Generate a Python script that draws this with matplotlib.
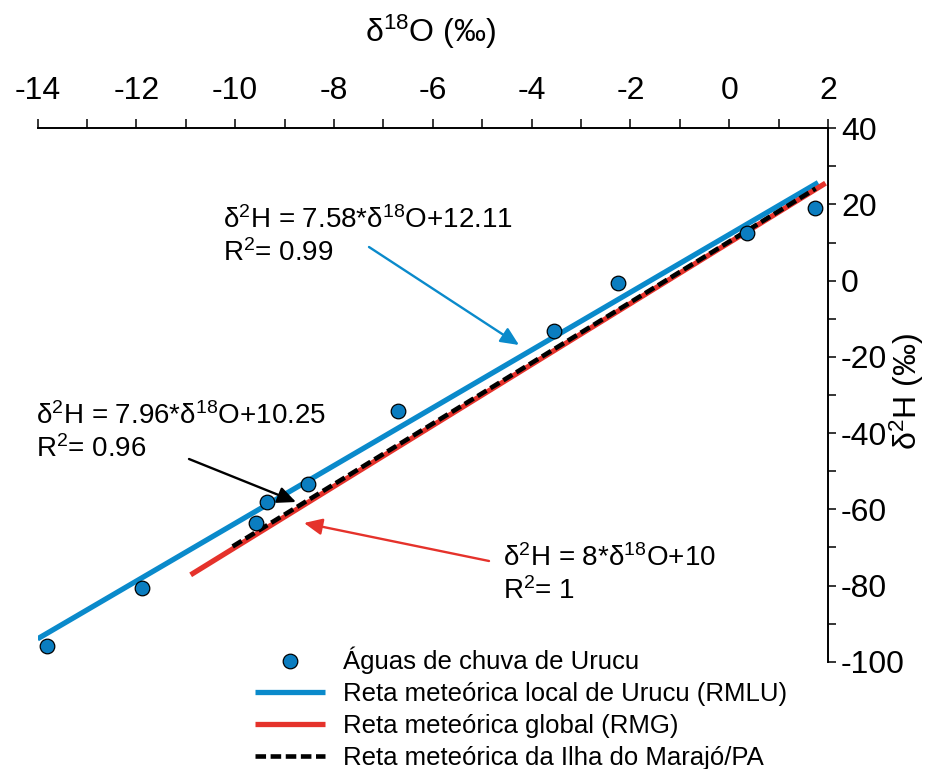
import matplotlib
matplotlib.use('Agg')
import matplotlib.pyplot as plt
import numpy as np
from matplotlib.lines import Line2D

plt.rcParams['font.family'] = ['Liberation Sans', 'DejaVu Sans']
plt.rcParams['mathtext.fontset'] = 'custom'
plt.rcParams['mathtext.rm'] = 'Liberation Sans'
plt.rcParams['mathtext.it'] = 'Liberation Sans:italic'
plt.rcParams['mathtext.default'] = 'regular'

# ---------------- data ----------------
d18O = [-13.8, -11.89, -9.57, -9.35, -8.52, -6.71, -3.55, -2.25, 0.37, 1.74]
d2H = [-96.0, -80.6, -63.5, -58.2, -53.3, -34.3, -13.1, -0.7, 12.6, 19.2]

rmlu_coef = (7.58, 12.11)      # local meteoric water line (Urucu)
rmg_coef = (8.0, 10.0)         # global meteoric water line
marajo_coef = (7.96, 10.25)    # Ilha do Marajo meteoric line
rmlu_range = [-14.0, 1.8]
rmg_range = [-10.9, 1.95]
marajo_range = [-10.05, 1.75]

xmajor = [-14, -12, -10, -8, -6, -4, -2, 0, 2]
xminor = [-13, -11, -9, -7, -5, -3, -1, 1]
ymajor = [40, 20, 0, -20, -40, -60, -80, -100]
yminor = [30, 10, -10, -30, -50, -70, -90]

eq_rmlu = [r'δ$^{2}$H = 7.58*δ$^{18}$O+12.11', r'R$^{2}$= 0.99']
eq_marajo = [r'δ$^{2}$H = 7.96*δ$^{18}$O+10.25', r'R$^{2}$= 0.96']
eq_rmg = [r'δ$^{2}$H = 8*δ$^{18}$O+10', r'R$^{2}$= 1']

legend_labels = ['Águas de chuva de Urucu',
                 'Reta meteórica local de Urucu (RMLU)',
                 'Reta meteórica global (RMG)',
                 'Reta meteórica da Ilha do Marajó/PA']

BLUE = '#0A8ACB'
MBLUE = '#0B7DC0'
RED = '#E5322B'

W, H = 932, 769
fig = plt.figure(figsize=(W / 100, H / 100), dpi=100)


def fp(x, y):
    return (x / W, 1 - y / H)


ax = fig.add_axes([37.5 / W, 1 - 661.7 / H, (828 - 37.5) / W, (661.7 - 128.3) / H])


def line_pts(coef, rng):
    xs = np.array(rng)
    return xs, coef[0] * xs + coef[1]


x, y = line_pts(rmlu_coef, rmlu_range)
ax.plot(x, y, color=BLUE, lw=3.8, solid_capstyle='butt', zorder=2)
x, y = line_pts(rmg_coef, rmg_range)
ax.plot(x, y, color=RED, lw=3.8, solid_capstyle='butt', zorder=2)
x, y = line_pts(marajo_coef, marajo_range)
ax.plot(x, y, color='black', lw=3.3, dashes=(2.3, 1.0), zorder=3)
ax.plot(d18O, d2H, ls='none', marker='o', ms=10.5, mfc=MBLUE, mec='black', mew=0.9,
        zorder=4, clip_on=False)

ax.set_xlim(-14, 2)
ax.set_ylim(-100, 40)
ax.spines['left'].set_visible(False)
ax.spines['bottom'].set_visible(False)
ax.spines['top'].set_linewidth(1.4)
ax.spines['right'].set_linewidth(1.4)
ax.xaxis.set_ticks_position('top')
ax.yaxis.set_ticks_position('right')
ax.set_xticks(xmajor)
ax.set_xticks(xminor, minor=True)
ax.set_yticks(ymajor)
ax.set_yticks(yminor, minor=True)
ax.set_xticklabels([str(v) for v in xmajor])
ax.set_yticklabels([str(v) for v in ymajor])
ax.tick_params(axis='x', which='both', direction='out', length=6.5, width=1.1,
               labelsize=23, pad=9.4)
ax.tick_params(axis='y', which='both', direction='out', length=5.8, width=1.1,
               labelsize=23, pad=3.5)

fig.text(*fp(431, 42), r'δ$^{18}$O (‰)', fontsize=23, ha='center', va='baseline')
fig.text(*fp(907, 392), r'δ$^{2}$H (‰)', fontsize=23, ha='center', va='center',
         rotation=90)

# equations
for lines, (lx, by) in [(eq_rmlu, (223, 228)), (eq_marajo, (36.5, 424)),
                        (eq_rmg, (503, 566))]:
    fig.text(*fp(lx, by), lines[0], fontsize=20, ha='left', va='baseline')
    fig.text(*fp(lx, by + 33), lines[1], fontsize=20, ha='left', va='baseline')

# arrows
for color, tail, head in [(BLUE, (369, 247), (519, 345)),
                          ('black', (189, 459), (296, 502)),
                          (RED, (489, 561), (304, 523))]:
    ax.annotate('', xy=fp(*head), xytext=fp(*tail), xycoords='figure fraction',
                textcoords='figure fraction',
                arrowprops=dict(arrowstyle='-|>,head_length=0.55,head_width=0.25',
                                color=color, lw=1.7, mutation_scale=20,
                                shrinkA=0, shrinkB=0))

handles = [
    Line2D([], [], ls='none', marker='o', ms=10.5, mfc=MBLUE, mec='black', mew=0.9),
    Line2D([], [], color=BLUE, lw=3.8, solid_capstyle='butt'),
    Line2D([], [], color=RED, lw=3.8, solid_capstyle='butt'),
    Line2D([], [], color='black', lw=3.3, dashes=(2.3, 1.0)),
]
fig.legend(handles, legend_labels, loc='upper left',
           bbox_to_anchor=fp(255, 647), bbox_transform=fig.transFigure,
           frameon=False, fontsize=18.5, borderpad=0, borderaxespad=0,
           handlelength=2.72, handletextpad=0.7, labelspacing=0.3)

fig.savefig('out.png', dpi=100)
